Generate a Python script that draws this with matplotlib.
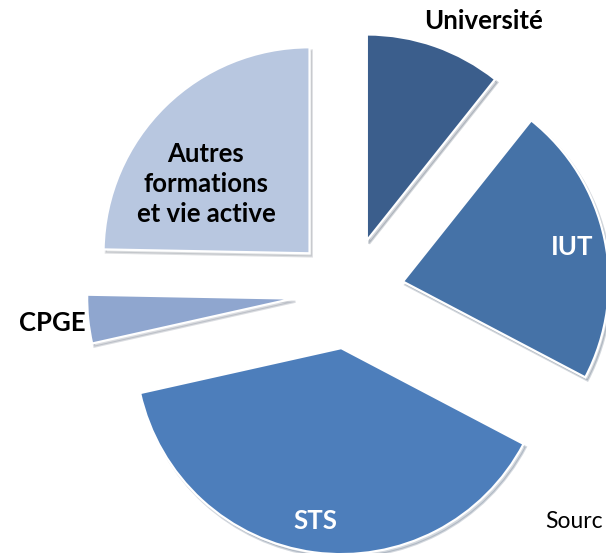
import matplotlib
matplotlib.use("Agg")
import matplotlib.pyplot as plt

# data (share of each route, %)
categories = ["Université", "IUT", "STS", "CPGE", "Autres\nformations\net vie active"]
shares = [10.7, 22.0, 38.8, 3.8, 24.7]
colours = ["#3B5E8C", "#4572A7", "#4D7EBB", "#8FA6CF", "#B8C7E0"]
label_colours = ["black", "white", "white", "black", "black"]

W, H = 606, 553
cx, cy, R = 348.5, 293.0, 206.0   # pie centre / radius in pixels


def px(x, y):
    # pixel position -> data coords (pie radius = 1)
    return (x - cx) / R, (cy - y) / R


fig = plt.figure(figsize=(W / 100, H / 100), dpi=100)
ax = fig.add_axes([0, 0, 1, 1])

wedges, _ = ax.pie(shares, startangle=90, counterclock=False,
                   colors=colours, explode=[0.27] * len(shares),
                   wedgeprops=dict(edgecolor="white", linewidth=1.6),
                   shadow=dict(ox=0.008, oy=-0.011, shade=0.5, alpha=0.2))

x0, y0 = px(0, 0)
x1, y1 = px(W, H)
ax.set_xlim(x0, x1)
ax.set_ylim(y1, y0)
ax.set_aspect("equal")
ax.axis("off")

# label positions (pixels)
label_pos = [(483, 21), (572, 247), (315, 521), (52, 323), (206, 184)]
for name, (lx, ly), col in zip(categories, label_pos, label_colours):
    ax.text(*px(lx, ly), name, ha="center", va="center", color=col,
            fontsize=18.5, fontweight="bold", family="Lato",
            linespacing=1.3)

ax.text(*px(545, 521), "Sourc", ha="left", va="center", color="black",
        fontsize=16.5, family="Lato")

fig.savefig("out.png", dpi=100)
